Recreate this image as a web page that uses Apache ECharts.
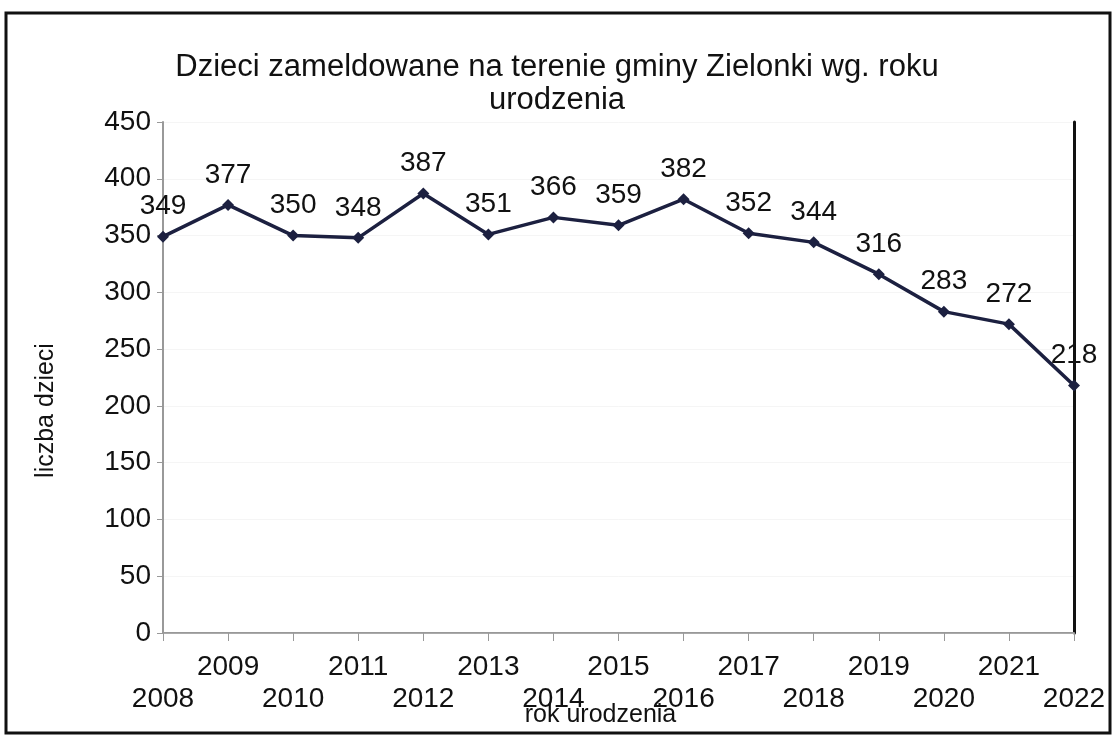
<!DOCTYPE html>
<html>
<head>
<meta charset="utf-8">
<script src="https://cdn.jsdelivr.net/npm/echarts@6/dist/echarts.min.js"></script>
<style>
  html, body { margin: 0; padding: 0; background: #fff; }
  #main { width: 1114px; height: 736px; }
</style>
</head>
<body>
<div id="main"></div>
<script>
// lata urodzenia i liczba dzieci
let years = ['2008', '2009', '2010', '2011', '2012', '2013', '2014', '2015',
             '2016', '2017', '2018', '2019', '2020', '2021', '2022'];
let children = [349, 377, 350, 348, 387, 351, 366, 359, 382, 352, 344, 316, 283, 272, 218];

let font = 'Liberation Sans, Arial, sans-serif';

let chart = echarts.init(document.getElementById('main'));

let option = {
    backgroundColor: '#fff',
    textStyle: { fontFamily: font },
    title: {
        text: 'Dzieci zameldowane na terenie gminy Zielonki wg. roku\nurodzenia',
        left: 'center',
        top: 46,
        textStyle: { fontFamily: font, fontSize: 31, fontWeight: 'normal', color: '#111', lineHeight: 33 }
    },
    graphic: [{
        type: 'rect',
        shape: { x: 6, y: 13, width: 1104, height: 720 },
        style: { fill: 'none', stroke: '#111', lineWidth: 3 },
        z: 100
    }],
    grid: { left: 163, right: 40, top: 122, bottom: 103, containLabel: false, outerBoundsMode: 'none' },
    xAxis: [{
        type: 'category',
        data: years,
        boundaryGap: false,
        name: 'rok urodzenia',
        nameLocation: 'middle',
        nameGap: 70,
        nameMoveOverlap: false,
        nameTextStyle: { fontFamily: font, fontSize: 25, color: '#111', padding: [0, 36, 0, 0] },
        axisLine: { lineStyle: { color: '#999', width: 2 } },
        axisTick: { show: true, length: 8, inside: false, lineStyle: { color: '#999' } },
        axisLabel: {
            fontFamily: font,
            fontSize: 28,
            color: '#111',
            margin: 18,
            lineHeight: 32,
            interval: 0,
            hideOverlap: false,
            formatter: function (v, i) {
                return i % 2 === 0 ? '\n' + v : v;
            }
        }
    }, {
        type: 'category',
        data: years,
        boundaryGap: false,
        position: 'top',
        axisLine: { lineStyle: { color: '#aaa', width: 1 } },
        axisTick: { show: false },
        axisLabel: { show: false }
    }],
    yAxis: [{
        type: 'value',
        min: 0,
        max: 450,
        interval: 50,
        name: 'liczba dzieci',
        nameLocation: 'middle',
        nameGap: 104,
        nameMoveOverlap: false,
        nameTextStyle: { fontFamily: font, fontSize: 25, color: '#111', padding: [0, 66, 0, 0] },
        axisLine: { show: true, lineStyle: { color: '#999', width: 2 } },
        axisTick: { show: true, length: 6, lineStyle: { color: '#999' } },
        axisLabel: { fontFamily: font, fontSize: 28, color: '#111', margin: 12 },
        splitLine: { show: true, lineStyle: { color: '#f5f5f5' } }
    }, {
        type: 'value',
        min: 0,
        max: 450,
        interval: 50,
        position: 'right',
        axisLine: { show: true, lineStyle: { color: '#111', width: 3 } },
        axisTick: { show: false },
        axisLabel: { show: false },
        splitLine: { show: false }
    }],
    series: [{
        type: 'line',
        data: children,
        symbol: 'diamond',
        symbolSize: 12,
        lineStyle: { color: '#1c2040', width: 3.5 },
        itemStyle: { color: '#1c2040' },
        label: {
            show: true,
            position: 'top',
            distance: 10,
            fontFamily: font,
            fontSize: 28,
            color: '#111'
        },
        z: 5
    }]
};

chart.setOption(option);
</script>
</body>
</html>
